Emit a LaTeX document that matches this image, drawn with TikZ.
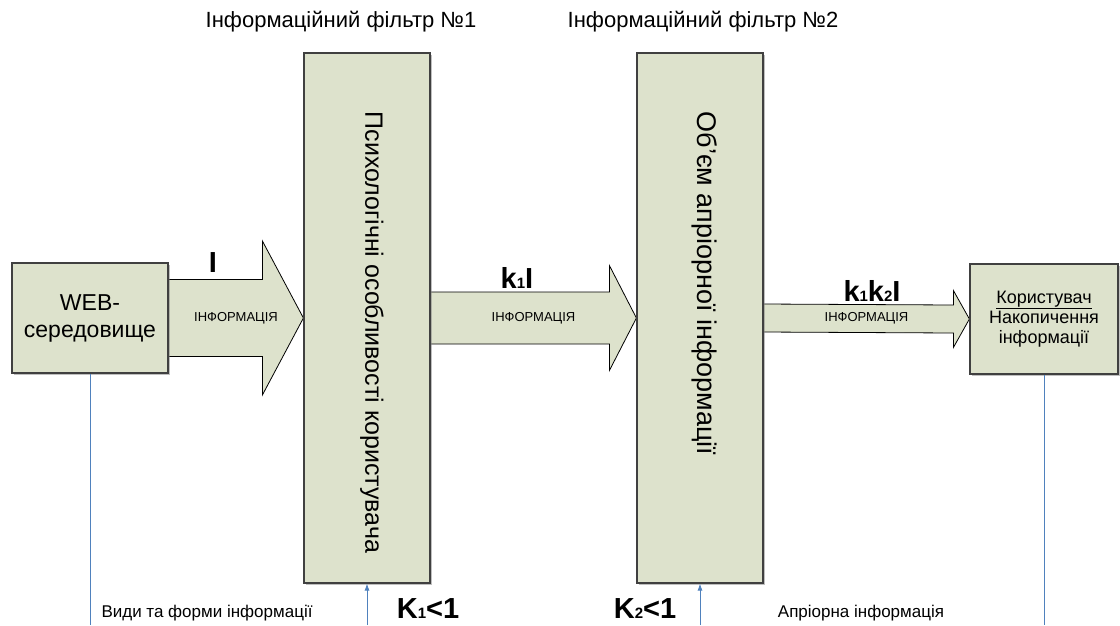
\documentclass[tikz,border=0pt]{standalone}
\usepackage{fontspec}
\setmainfont{Liberation Sans}
\usetikzlibrary{calc,backgrounds,shadows,arrows.meta}
\definecolor{BoxFill}{RGB}{221,226,204}
\definecolor{LineBlue}{RGB}{79,129,189}
\newcommand{\fsz}[2]{\fontsize{#1}{#2}\selectfont}
\newcommand{\lowidx}[1]{{\fsz{15}{15}#1}}
\newcommand{\infoarrow}[5]{%
  \draw[infoflow] ($(#1)+(0,-#3)$) -- ($(#2)+(-#5,-#3)$) -- ($(#2)+(-#5,-#4)$) -- (#2)
    -- ($(#2)+(-#5,#4)$) -- ($(#2)+(-#5,#3)$) -- ($(#1)+(0,#3)$);}
\tikzset{
  srcbox/.style={draw=black!75, line width=1.2pt, fill=BoxFill, align=center, inner sep=0pt,
    minimum width=156pt, minimum height=110pt, font=\fsz{23}{27},
    drop shadow={shadow xshift=1.5pt, shadow yshift=-1.5pt, opacity=0.5}},
  filterbox/.style={srcbox, minimum width=126pt, minimum height=530pt},
  filtertext/.style={rotate=-90, anchor=west, inner sep=0pt},
  infoflow/.style={draw=black, line width=0.8pt, fill=BoxFill},
  flowlabel/.style={font=\bfseries\fsz{29}{29}, inner sep=0pt},
  infolabel/.style={font=\fsz{13}{13}, inner sep=0pt},
  titlelabel/.style={font=\fsz{22}{22}, inner sep=0pt},
  notelabel/.style={font=\fsz{17}{17}, inner sep=0pt},
  feedline/.style={draw=LineBlue, line width=0.8pt}
}
\begin{document}
\begin{tikzpicture}[x=1pt,y=-1pt]
            \useasboundingbox (0,0) rectangle (1120,625);

            \node[srcbox] (web) at (90,318) {WEB-\\середовище};
            \node[filterbox] (f1) at (367,318) {};
            \node[filterbox] (f2) at (700,318) {};
            \node[srcbox, minimum width=148pt, font=\fsz{18}{20}] (user) at (1044,319) {\underline{Користувач}\\Накопичення\\інформації};

            \node[filtertext, font=\fsz{25}{25}] (f1text) at ($(f1.north)+(5,59)$) {Психологічні особливості користувача};
            \node[filtertext, font=\fsz{27}{27}] (f2text) at ($(f2.north)+(5,59)$) {Об’єм апріорної інформації};

            \begin{scope}[on background layer]
                \infoarrow{web.east}{f1.west}{38.5}{77}{41}
                \infoarrow{f1.east}{f2.west}{26}{52.5}{27}
                \infoarrow{f2.east}{user.west}{14}{28.5}{16}
            \end{scope}

            \node[infolabel] (info1) at ($(web.east)!0.5!(f1.west)$) {ІНФОРМАЦІЯ};
            \node[infolabel] (info2) at ($(f1.east)!0.5!(f2.west)$) {ІНФОРМАЦІЯ};
            \node[infolabel] (info3) at ($(f2.east)!0.5!(user.west)$) {ІНФОРМАЦІЯ};

            \node[flowlabel] (flow1) at (213,263) {I};
            \node[flowlabel] (flow2) at (517,278) {k\lowidx{1}I};
            \node[flowlabel] (flow3) at (872,291) {k\lowidx{1}k\lowidx{2}I};

            \node[titlelabel] (title1) at (341,22) {Інформаційний фільтр №1};
            \node[titlelabel] (title2) at (703,22) {Інформаційний фільтр №2};

            \coordinate (webfoot) at (web.south |- 0,625);
            \coordinate (userfoot) at (user.south |- 0,625);
            \coordinate (f1foot) at (f1.south |- 0,625);
            \coordinate (f2foot) at (f2.south |- 0,625);
            \draw[feedline] (web.south) -- (webfoot);
            \draw[feedline] (user.south) -- (userfoot);
            \draw[feedline,-{Latex[length=7pt,width=5pt]}] (f1foot) -- (f1.south);
            \draw[feedline,-{Latex[length=7pt,width=5pt]}] (f2foot) -- (f2.south);

            \node[flowlabel] (coef1) at (428,609) {K\lowidx{1}<1};
            \node[flowlabel] (coef2) at (645,609) {K\lowidx{2}<1};
            \node[notelabel] (note1) at (207,613) {Види та форми інформації};
            \node[notelabel] (note2) at (861,613) {Апріорна інформація};
        \end{tikzpicture}
\end{document}
